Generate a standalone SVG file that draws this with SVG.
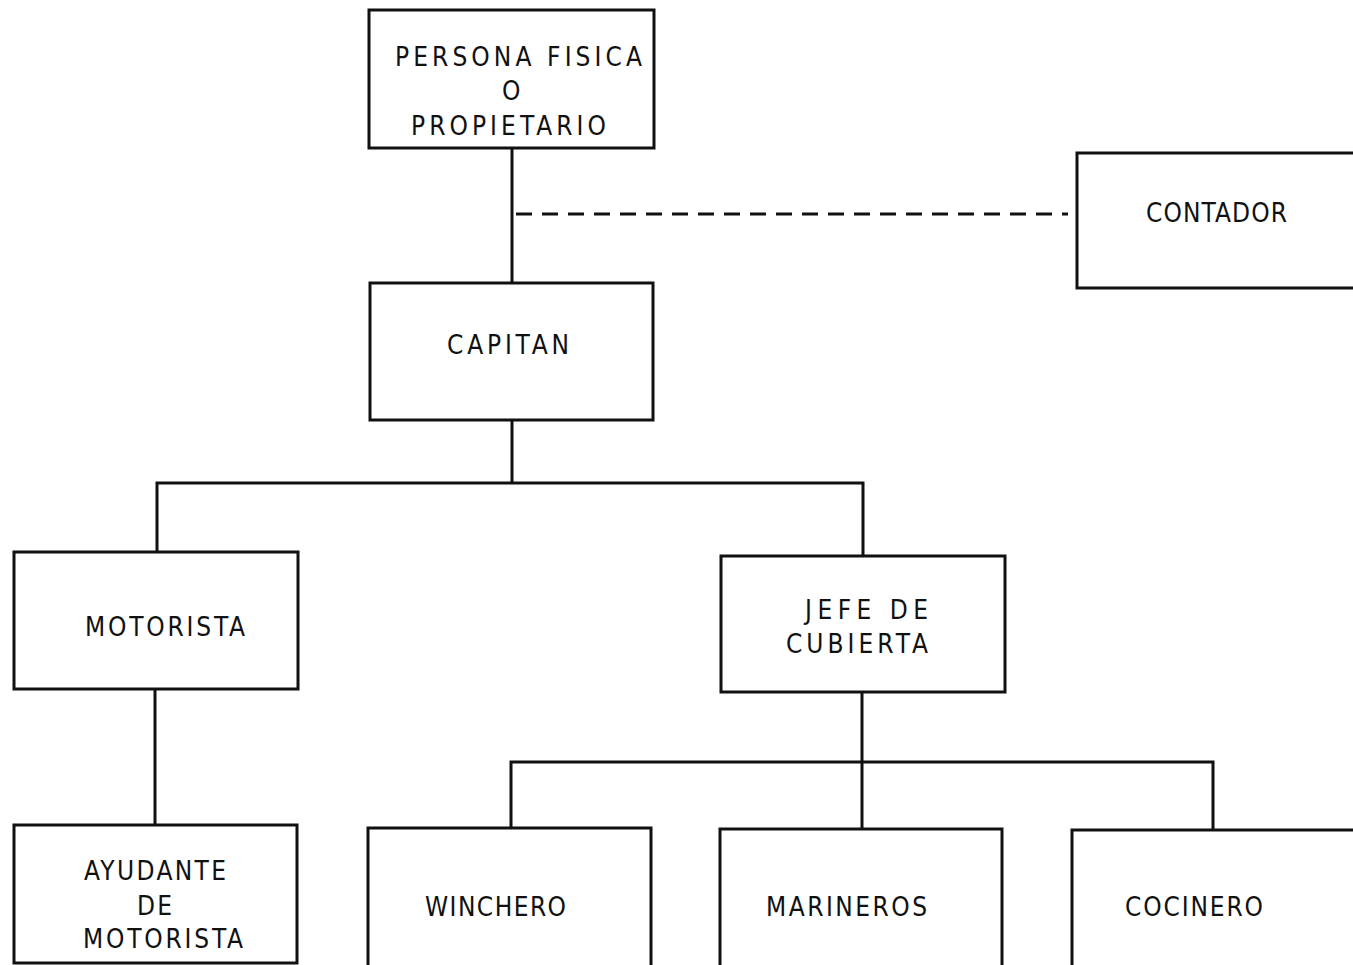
<svg xmlns="http://www.w3.org/2000/svg" width="1353" height="965" viewBox="0 0 1353 965">
<style>
.box{fill:#fff;stroke:#111;stroke-width:3}
.ln{fill:none;stroke:#111;stroke-width:3}
.dash{fill:none;stroke:#111;stroke-width:3;stroke-dasharray:16 10}
text{font-family:"DejaVu Sans Condensed","DejaVu Sans","Liberation Sans",sans-serif;font-stretch:condensed;font-size:26px;fill:#111}
</style>
<rect width="1353" height="965" fill="#fff"/>
<g id="connectors">
<line class="ln" x1="512" y1="148" x2="512" y2="283"/>
<line class="dash" x1="516" y1="214" x2="1068" y2="214"/>
<line class="ln" x1="512" y1="420" x2="512" y2="483"/>
<polyline class="ln" points="157,552 157,483 863,483 863,556"/>
<line class="ln" x1="155" y1="689" x2="155" y2="825"/>
<line class="ln" x1="862" y1="692" x2="862" y2="829"/>
<polyline class="ln" points="511,828 511,762 1213,762 1213,830"/>
</g>
<g id="persona">
<rect class="box" x="369" y="10" width="285" height="138"/>
<text x="395" y="66" textLength="247" lengthAdjust="spacing">PERSONA FISICA</text>
<text x="502" y="100">O</text>
<text x="411" y="135" textLength="195" lengthAdjust="spacing">PROPIETARIO</text>
</g>
<g id="contador">
<rect class="box" x="1077" y="153" width="290" height="135"/>
<text x="1146" y="222" textLength="141" lengthAdjust="spacing">CONTADOR</text>
</g>
<g id="capitan">
<rect class="box" x="370" y="283" width="283" height="137"/>
<text x="447" y="354" textLength="122" lengthAdjust="spacing">CAPITAN</text>
</g>
<g id="motorista">
<rect class="box" x="14" y="552" width="284" height="137"/>
<text x="85" y="636" textLength="160" lengthAdjust="spacing">MOTORISTA</text>
</g>
<g id="jefe">
<rect class="box" x="721" y="556" width="284" height="136"/>
<text x="805" y="619" textLength="123" lengthAdjust="spacing">JEFE DE</text>
<text x="786" y="653" textLength="142" lengthAdjust="spacing">CUBIERTA</text>
</g>
<g id="ayudante">
<rect class="box" x="14" y="825" width="283" height="138"/>
<text x="84" y="880" textLength="142" lengthAdjust="spacing">AYUDANTE</text>
<text x="137" y="915" textLength="35" lengthAdjust="spacing">DE</text>
<text x="83" y="948" textLength="160" lengthAdjust="spacing">MOTORISTA</text>
</g>
<g id="winchero">
<rect class="box" x="368" y="828" width="283" height="140"/>
<text x="425" y="916" textLength="141" lengthAdjust="spacing">WINCHERO</text>
</g>
<g id="marineros">
<rect class="box" x="720" y="829" width="282" height="139"/>
<text x="766" y="916" textLength="161" lengthAdjust="spacing">MARINEROS</text>
</g>
<g id="cocinero">
<rect class="box" x="1072" y="830" width="295" height="140"/>
<text x="1125" y="916" textLength="138" lengthAdjust="spacing">COCINERO</text>
</g>
</svg>
